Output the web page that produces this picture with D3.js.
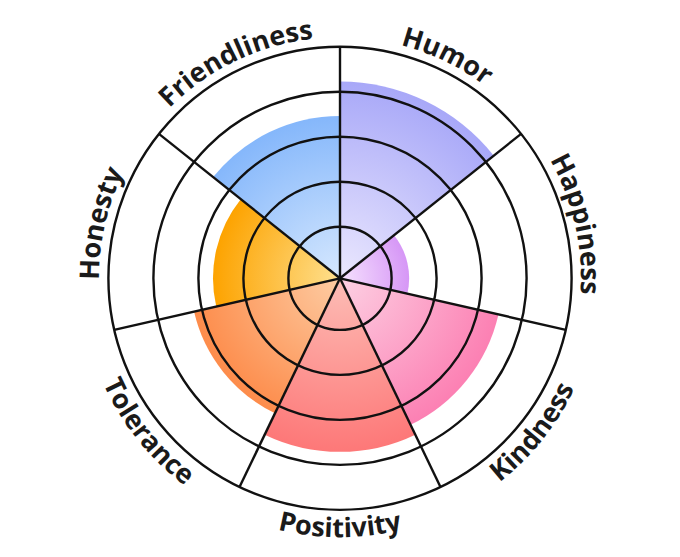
<!DOCTYPE html>
<html>
<head>
<meta charset="utf-8">
<script src="https://cdn.jsdelivr.net/npm/d3@7"></script>
<style>
  html, body { margin: 0; padding: 0; background: #fff; }
  svg { display: block; }
</style>
</head>
<body>
<svg id="chart" width="680" height="557"></svg>
<script>
const categories = ["Humor", "Happiness", "Kindness", "Positivity", "Tolerance", "Honesty", "Friendliness"];
const values = [8.45, 2.78, 6.93, 7.42, 6.36, 5.35, 6.92];
const ticks = [2, 4, 6, 8, 10];
const outerColors = ["#a8a8f8", "#d697f6", "#fc80b3", "#fd7878", "#fd8c4b", "#fda300", "#85b7fb"];
const innerColors = ["#ebe8fe", "#f6e2fe", "#fdd0e3", "#fdbdb6", "#fdcca3", "#fee08f", "#d6e8fe"];

const width = 680, height = 557;
const cx = 340, cy = 278.3;
const outerR = 231.6;

const svg = d3.select("#chart");
const g = svg.append("g").attr("transform", `translate(${cx},${cy})`);

const r = d3.scaleLinear().domain([0, 10]).range([6.6, outerR]);
const angle = d3.scaleBand().domain(categories).range([0, 2 * Math.PI]).paddingInner(0).paddingOuter(0);

const defs = svg.append("defs");
categories.forEach((c, i) => {
  const grad = defs.append("radialGradient")
    .attr("id", "grad" + i)
    .attr("gradientUnits", "userSpaceOnUse")
    .attr("cx", 0).attr("cy", 0).attr("fx", 0).attr("fy", 0)
    .attr("r", r(values[i]));
  grad.append("stop").attr("offset", "0%").attr("stop-color", innerColors[i]);
  grad.append("stop").attr("offset", "100%").attr("stop-color", outerColors[i]);
});

const arc = d3.arc()
  .innerRadius(0)
  .outerRadius((d, i) => r(d))
  .startAngle((d, i) => angle(categories[i]))
  .endAngle((d, i) => angle(categories[i]) + angle.bandwidth());

g.selectAll("path.slice")
  .data(values)
  .join("path")
  .attr("class", "slice")
  .attr("d", (d, i) => arc(d, i))
  .attr("fill", (d, i) => `url(#grad${i})`);

// grid circles
g.selectAll("circle.grid")
  .data(ticks)
  .join("circle")
  .attr("class", "grid")
  .attr("r", d => r(d))
  .attr("fill", "none")
  .attr("stroke", "#111")
  .attr("stroke-width", 2.4);

// spokes
g.selectAll("line.spoke")
  .data(categories)
  .join("line")
  .attr("class", "spoke")
  .attr("x1", 0).attr("y1", 0)
  .attr("x2", d => r(10) * Math.sin(angle(d)))
  .attr("y2", d => -r(10) * Math.cos(angle(d)))
  .attr("stroke", "#111")
  .attr("stroke-width", 2.4);

// labels on curved paths
const labelRNormal = 241;
const labelRFlip = 259;
function pt(rad, a) { return [rad * Math.sin(a), -rad * Math.cos(a)]; }
categories.forEach((c, i) => {
  const a0 = angle(c), a1 = a0 + angle.bandwidth();
  const mid = (a0 + a1) / 2;
  const flip = mid > Math.PI / 2 && mid < 3 * Math.PI / 2;
  let d;
  if (!flip) {
    const p0 = pt(labelRNormal, a0), p1 = pt(labelRNormal, a1);
    d = `M${p0[0]},${p0[1]} A${labelRNormal},${labelRNormal} 0 0 1 ${p1[0]},${p1[1]}`;
  } else {
    const p0 = pt(labelRFlip, a1), p1 = pt(labelRFlip, a0);
    d = `M${p0[0]},${p0[1]} A${labelRFlip},${labelRFlip} 0 0 0 ${p1[0]},${p1[1]}`;
  }
  defs.append("path").attr("id", "lp" + i).attr("d", d);
  g.append("text")
    .attr("font-family", "'Open Sans', 'Noto Sans', sans-serif")
    .attr("font-weight", 700)
    .attr("font-size", 27)
    .attr("fill", "#1a1a1a")
    .append("textPath")
    .attr("href", "#lp" + i)
    .attr("startOffset", "50%")
    .attr("text-anchor", "middle")
    .text(c);
});
</script>
</body>
</html>
